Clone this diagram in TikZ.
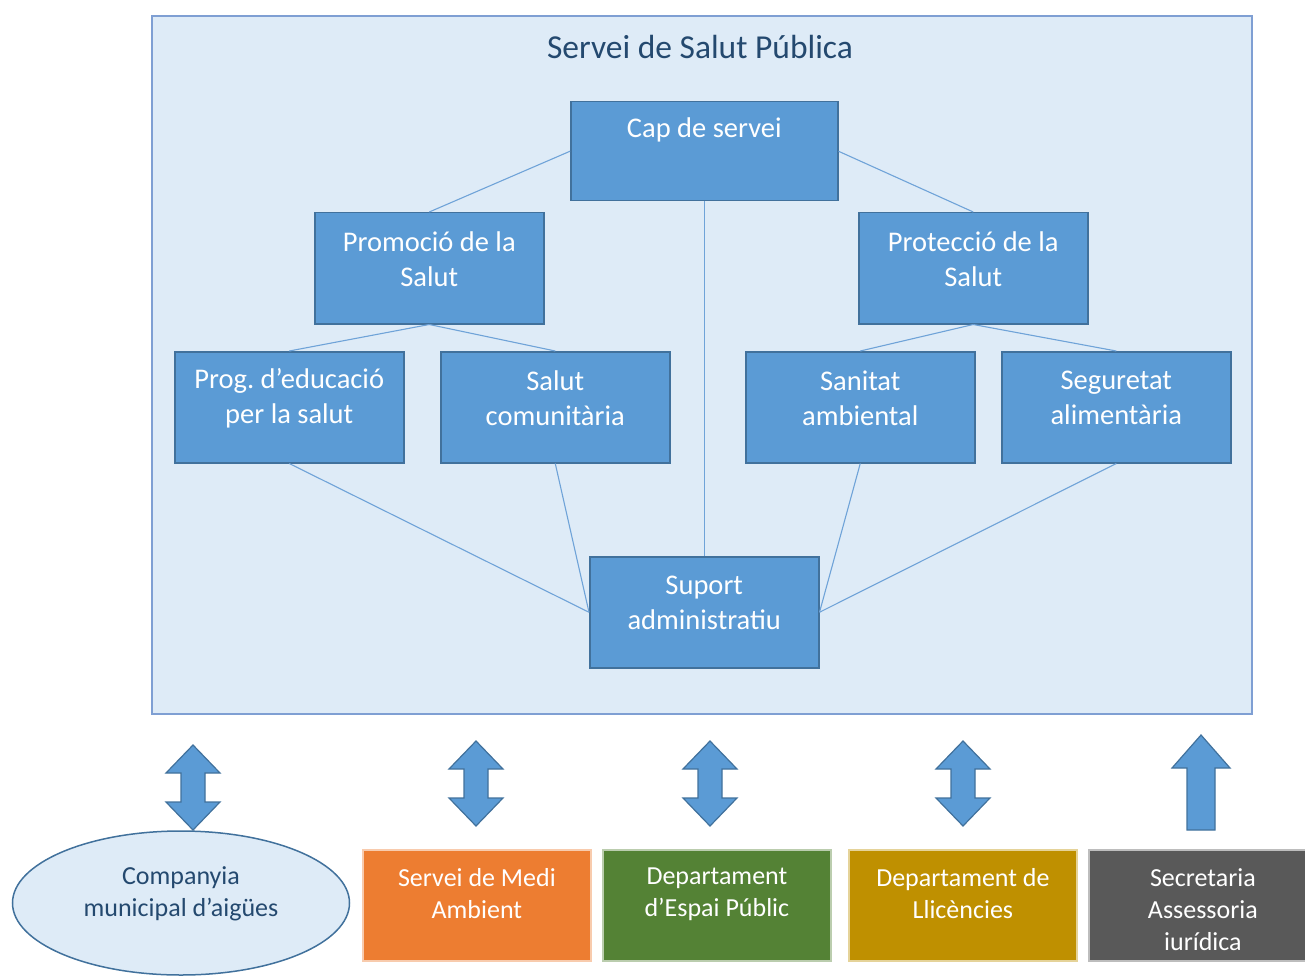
\documentclass[tikz,border=0pt]{standalone}
\usepackage{fontspec}
\setmainfont{Carlito}
\usetikzlibrary{shapes.geometric}
\frenchspacing
\definecolor{boxblue}{HTML}{5B9BD5}
\definecolor{boxedge}{HTML}{41719C}
\definecolor{framefill}{HTML}{DEEBF7}
\definecolor{frameedge}{HTML}{7F9FD3}
\definecolor{titleblue}{HTML}{24496F}
\definecolor{lineblue}{HTML}{6FA3D8}
\definecolor{orangebox}{HTML}{ED7D31}
\definecolor{greenbox}{HTML}{548235}
\definecolor{goldbox}{HTML}{BF9000}
\definecolor{graybox}{HTML}{595959}
\begin{document}
\begin{tikzpicture}[x=1pt,y=-1pt,
  unitbox/.style={draw=boxedge, fill=boxblue, line width=1.5pt, minimum width=229pt, minimum height=111pt, inner sep=0pt, anchor=north west},
  boxtext/.style={text=white, align=center, font=\fontsize{28.5}{35}\selectfont, inner sep=0pt},
  extbox/.style={line width=1.8pt, minimum width=228pt, minimum height=111pt, inner sep=0pt, anchor=north west},
  exttext/.style={text=white, align=center, font=\fontsize{26}{32}\selectfont, inner sep=0pt},
  conn/.style={draw=lineblue, line width=1.1pt},
  arrowshape/.style={fill=boxblue, draw=boxedge, line width=1.2pt, line join=miter},
  dblarrow/.pic={\draw[arrowshape] (0,-42.5) -- (27,-14.5) -- (12,-14.5) -- (12,14.5) -- (27,14.5) -- (0,42.5) -- (-27,14.5) -- (-12,14.5) -- (-12,-14.5) -- (-27,-14.5) -- cycle;},
  uparrow/.pic={\draw[arrowshape] (0,-47.5) -- (29,-14.5) -- (14,-14.5) -- (14,47.5) -- (-14,47.5) -- (-14,-14.5) -- (-29,-14.5) -- cycle;}
]
\useasboundingbox (0,0) rectangle (1305,976);
% frame
\node[draw=frameedge, fill=framefill, line width=1.8pt, minimum width=1100pt, minimum height=698pt, inner sep=0pt, anchor=north west] (frame) at (151,15) {};
\node[text=titleblue, font=\fontsize{33.5}{40}\selectfont, inner sep=0pt] (title) at (700,47) {Servei de Salut Pública};
% boxes
\node[unitbox, minimum width=267pt, minimum height=99pt] (cap) at (570,101) {};
\node[boxtext] (captxt) at ([yshift=21pt]cap.center) {Cap de servei};
\node[unitbox] (prom) at (314,212) {};
\node[boxtext] (promtxt) at ([yshift=9pt]prom.center) {Promoció de la\\Salut};
\node[unitbox] (prot) at (858,212) {};
\node[boxtext] (prottxt) at ([yshift=9pt]prot.center) {Protecció de la\\Salut};
\node[unitbox] (prog) at (174,351) {};
\node[boxtext] (progtxt) at ([yshift=9pt]prog.center) {Prog. d’educació\\per la salut};
\node[unitbox] (scom) at (440,351) {};
\node[boxtext] (scomtxt) at ([yshift=9pt]scom.center) {Salut\\comunitària};
\node[unitbox] (sanit) at (745,351) {};
\node[boxtext] (sanittxt) at ([yshift=9pt]sanit.center) {Sanitat\\ambiental};
\node[unitbox] (segur) at (1001,351) {};
\node[boxtext] (segurtxt) at ([yshift=9pt]segur.center) {Seguretat\\alimentària};
\node[unitbox] (suport) at (589,556) {};
\node[boxtext] (suporttxt) at ([yshift=9pt]suport.center) {Suport\\administratiu};
% connectors
\draw[conn] (cap.west) -- (prom.north);
\draw[conn] (cap.east) -- (prot.north);
\draw[conn] (cap.south) -- (suport.north);
\draw[conn] (prom.south) -- (prog.north);
\draw[conn] (prom.south) -- (scom.north);
\draw[conn] (prot.south) -- (sanit.north);
\draw[conn] (prot.south) -- (segur.north);
\draw[conn] (prog.south) -- (suport.west);
\draw[conn] (scom.south) -- (suport.west);
\draw[conn] (sanit.south) -- (suport.east);
\draw[conn] (segur.south) -- (suport.east);
% external
\node[ellipse, draw=boxedge, fill=framefill, line width=1.5pt, minimum width=337pt, minimum height=144pt, inner sep=0pt] (aigues) at (181,903) {};
\node[text=titleblue, align=center, font=\fontsize{26}{32}\selectfont, inner sep=0pt] (aiguestxt) at ([yshift=9pt]aigues.center) {Companyia\\municipal d’aigües};
\node[extbox, fill=orangebox, draw=orangebox!40!white] (medi) at (362,849) {};
\node[exttext] (meditxt) at ([yshift=12pt]medi.center) {Servei de Medi\\Ambient};
\node[extbox, fill=greenbox, draw=greenbox!40!white] (espai) at (602,849) {};
\node[exttext] (espaitxt) at ([yshift=11pt]espai.center) {Departament\\d’Espai Públic};
\node[extbox, fill=goldbox, draw=goldbox!40!white] (llic) at (848,849) {};
\node[exttext] (llictxt) at ([yshift=12pt]llic.center) {Departament de\\Llicències};
\node[extbox, fill=graybox, draw=graybox!40!white] (secr) at (1088,849) {};
\node[exttext] (secrtxt) at ([yshift=-4pt]secr.center) {Secretaria\\Assessoria\\iurídica};
% arrows
\pic at (193,787.5) {dblarrow};
\pic at (476,783.5) {dblarrow};
\pic at (710,783.5) {dblarrow};
\pic at (963,783.5) {dblarrow};
\pic at (1201,782.5) {uparrow};
\end{tikzpicture}
\end{document}
